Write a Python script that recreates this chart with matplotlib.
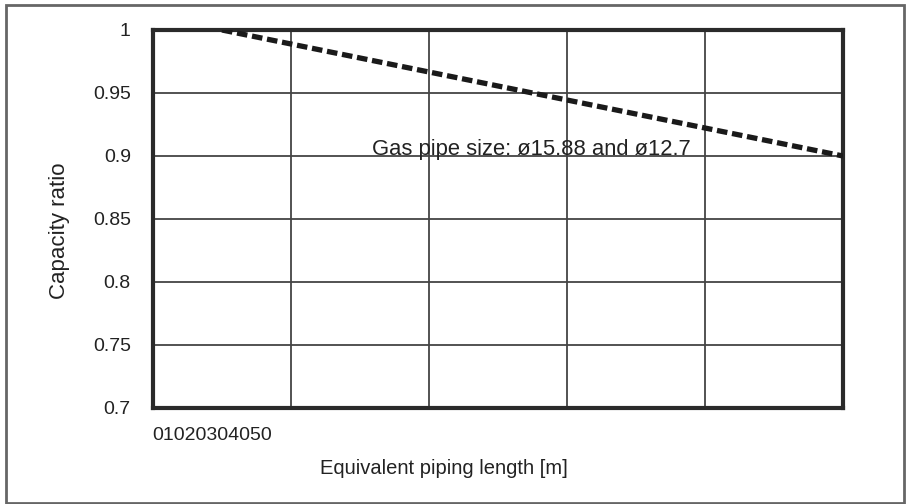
import matplotlib.pyplot as plt
from matplotlib.patches import Rectangle

# chart data
length = [5, 50]
ratio = [1.0, 0.9]
x_grid = [0, 10, 20, 30, 40, 50]
y_ticks = [0.7, 0.75, 0.8, 0.85, 0.9, 0.95, 1.0]
y_labels = ['0.7', '0.75', '0.8', '0.85', '0.9', '0.95', '1']
x_tick_text = '01020304050'
note = 'Gas pipe size: ø15.88 and ø12.7'

plt.rcParams['font.family'] = ['Liberation Sans', 'DejaVu Sans']
txt = '#222222'

fig = plt.figure(figsize=(9.06, 5.04), dpi=100)
ax = fig.add_axes([153/906, 1 - 408/504, 690/906, 378/504])

ax.plot(length, ratio, ls=(0, (2.0, 0.9)), lw=3.8, c='#1a1a1a', zorder=3)

ax.set_xlim(0, 50)
ax.set_ylim(0.7, 1.0)
ax.set_xticks(x_grid)
ax.set_xticklabels([])
ax.set_yticks(y_ticks)
ax.set_yticklabels(y_labels, fontsize=14, color=txt)
ax.tick_params(length=0, pad=16)
ax.grid(True, color='#444444', lw=1.3)
for s in ax.spines.values():
    s.set_linewidth(3)
    s.set_color('#2a2a2a')

ax.text(15.9, 0.9008, note, fontsize=15.8, color=txt, va='baseline', ha='left')

fig.text(60/906, 1 - 231/504, 'Capacity ratio', fontsize=16, color=txt,
         rotation=90, va='center', ha='center')
fig.text(152/906, 1 - 436/504, x_tick_text, fontsize=14, color=txt, va='center', ha='left')
fig.text(444/906, 1 - 468/504, 'Equivalent piping length [m]', fontsize=14.5,
         color=txt, va='center', ha='center')

fig.patches.append(Rectangle((6/906, 0.002), 898/906, 1 - 5/504 - 0.002, transform=fig.transFigure,
                             fill=False, ec='#666666', lw=2))

fig.savefig('out.png', dpi=100)
